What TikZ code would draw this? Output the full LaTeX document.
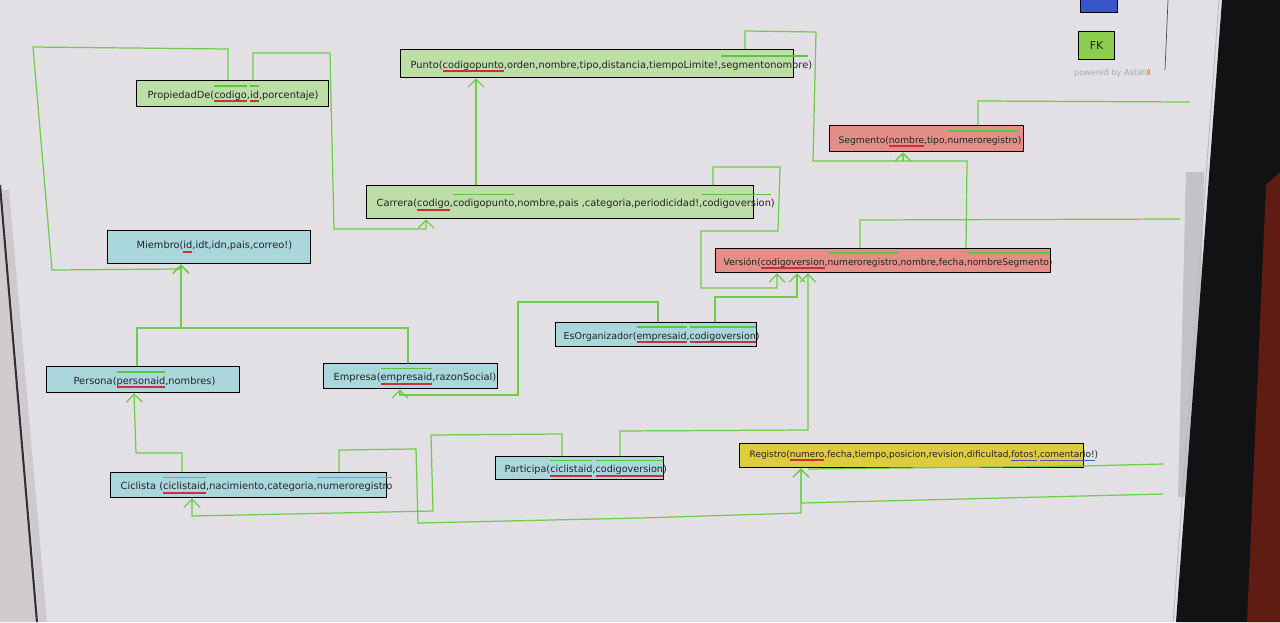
\documentclass[tikz,border=0pt]{standalone}
\usepackage{fontspec}
\setmainfont{DejaVu Sans}
\usetikzlibrary{arrows.meta}
\newdimen\pxu \pxu=0.02cm
\definecolor{scr}{RGB}{226,224,228}
\definecolor{scrleft}{RGB}{208,203,207}
\definecolor{edgedark}{RGB}{55,45,50}
\definecolor{bezel}{RGB}{18,18,20}
\definecolor{brownred}{RGB}{95,28,18}
\definecolor{scrollg}{RGB}{196,194,198}
\definecolor{fillg}{RGB}{190,222,168}
\definecolor{fillr}{RGB}{228,142,136}
\definecolor{fillc}{RGB}{170,215,220}
\definecolor{filly}{RGB}{222,204,62}
\definecolor{lineg}{RGB}{110,205,70}
\definecolor{fkg}{RGB}{90,200,60}
\definecolor{pkred}{RGB}{205,45,65}
\definecolor{bluu}{RGB}{70,90,200}
\definecolor{txt}{RGB}{35,35,38}
\definecolor{legblue}{RGB}{55,85,200}
\definecolor{legg}{RGB}{140,205,80}
\definecolor{faint}{RGB}{172,168,172}
\newcommand\pk[1]{\setbox0\hbox{#1}\rlap{\color{pkred}\rule[-2.2pt]{\wd0}{0.9pt}}\box0}
\newcommand\fk[1]{\setbox0\hbox{#1}\rlap{\color{fkg}\rule[6.6pt]{\wd0}{0.7pt}}\box0}
\newcommand\bu[1]{\setbox0\hbox{#1}\rlap{\color{bluu}\rule[-2.2pt]{\wd0}{0.8pt}}\box0}
\newcommand\smallfs{\fontsize{5.2}{6.2}\selectfont}
\newcommand\smallerfs{\fontsize{5.1}{6.1}\selectfont}
\tikzset{
  tbl/.style={draw=black, line width=0.75pt, inner sep=0pt, anchor=north west,
    font=\fontsize{5.6}{6.7}\selectfont, text=txt},
  con/.style={draw=lineg, line width=0.7pt},
  arr/.style={con, -{Straight Barb[length=4.5pt,width=9pt]}},
}
\newcommand\tb[8]{\node[tbl, fill=#7, minimum width=#4*0.02cm, minimum height=#5*0.02cm] (#1) at (#2,#3) {\makebox[#4\pxu][l]{\hspace{#6\pxu}#8}};}
\begin{document}
\begin{tikzpicture}[x=0.02cm,y=-0.02cm]
\useasboundingbox (0,0) rectangle (1280,622);
\clip (0,0) rectangle (1280,622);
% photo frame
\fill[scr] (0,0) rectangle (1280,622);
\fill[scrleft] (0,185) -- (37,622) -- (0,622) -- cycle;
\fill[scrollg, opacity=0.7] (2,190) -- (9,190) -- (47,622) -- (39,622) -- cycle;
\draw[edgedark, line width=1.2pt] (0,185) -- (37,622);
\fill[scrollg] (1186,172) -- (1204,172) -- (1196,497) -- (1178,497) -- cycle;
\fill[bezel] (1222,0) -- (1280,0) -- (1280,622) -- (1176,622) -- cycle;
\fill[brownred] (1266,185) -- (1280,172) -- (1280,622) -- (1247,622) -- cycle;
\draw[color={rgb,255:red,170;green,190;blue,200}, line width=0.5pt] (1219,0) -- (1173,622);
% legend
\draw[black!70, line width=0.4pt] (1168,0) -- (1165,70);
\node[draw=black, line width=0.75pt, fill=legblue, minimum width=37*0.02cm, minimum height=17*0.02cm, anchor=north west, inner sep=0pt] (legpk) at (1080,-5) {};
\node[draw=black, line width=0.75pt, fill=legg, minimum width=36*0.02cm, minimum height=28*0.02cm, anchor=north west, inner sep=0pt, font=\fontsize{6.2}{7}\selectfont, text=txt] (legfk) at (1078,31) {FK};
\node[font=\fontsize{4.6}{5}\selectfont, text=faint, inner sep=0pt] (astah) at (1112,73) {powered by Astah\textcolor{orange!70}{\rule{1.6pt}{3.4pt}}};
% tables
\tb{prop}{136}{80}{192}{26}{11}{fillg}{PropiedadDe(\pk{\fk{codigo}},\pk{\fk{id}},porcentaje)}
\tb{pun}{400}{49}{393}{28}{10}{fillg}{Punto(\pk{codigopunto},orden,nombre,tipo,distancia,tiempoLimite!,\fk{segmentonombre})}
\tb{car}{366}{185}{387}{33}{10}{fillg}{Carrera(\pk{codigo},\fk{codigopunto},nombre,pais ,categoria,periodicidad!,\fk{codigoversion})}
\tb{seg}{829}{125}{194}{26}{9}{fillr}{\smallfs Segmento(\pk{nombre},tipo,\fk{numeroregistro})}
\tb{ver}{715}{248}{335}{24}{8}{fillr}{\smallfs Versión(\pk{codigoversion},\fk{numeroregistro},nombre,fecha,\fk{nombreSegmento})}
\tb{mie}{107}{230}{203}{33}{29}{fillc}{Miembro(\pk{id},idt,idn,pais,correo!)}
\tb{per}{46}{366}{193}{26}{27}{fillc}{Persona(\pk{\fk{personaid}},nombres)}
\tb{emp}{323}{363}{174}{25}{10}{fillc}{Empresa(\pk{\fk{empresaid}},razonSocial)}
\tb{eso}{555}{322}{201}{24}{8}{fillc}{\fontsize{5.4}{6.4}\selectfont EsOrganizador(\pk{\fk{empresaid}},\pk{\fk{codigoversion}})}
\tb{par}{495}{456}{168}{23}{9}{fillc}{\fontsize{5.5}{6.5}\selectfont Participa(\pk{\fk{ciclistaid}},\pk{\fk{codigoversion}})}
\tb{cic}{110}{472}{276}{25}{10}{fillc}{Ciclista (\pk{\fk{ciclistaid}},nacimiento,categoria,\fk{numeroregistro}}
\tb{reg}{739}{443}{344}{24}{10}{filly}{\smallerfs Registro(\pk{numero},fecha,tiempo,posicion,revision,dificultad,\bu{fotos!},\bu{comentario!})}
% free ends
\coordinate (offa) at (1190,102);
\coordinate (offb) at (1180,219);
\coordinate (offc) at (1163,494);
\coordinate (offd) at (1163,464);
% connectors
\draw[arr] (prop.north -| 228,0) -- (228,49) -- (33,47) -- (52,270) -- (181,269) -- (mie.south -| 181,0);
\draw[arr] (prop.north -| 253,0) -- (253,53) -- (330,53) -- (334,229) -- (426,229) -- (car.south -| 426,0);
\draw[arr] (car.north -| 476,0) -- (pun.south -| 476,0);
\draw[arr] (pun.north -| 745,0) -- (745,31) -- (816,32) -- (813,161) -- (903,161) -- (seg.south -| 903,0);
\draw[arr] (ver.north -| 966,0) -- (967,161) -- (903,161) -- (seg.south -| 903,0);
\draw[con] (seg.north -| 978,0) -- (978,101) -- (offa);
\draw[con] (ver.north -| 860,0) -- (860,220) -- (offb);
\draw[arr] (car.north -| 713,0) -- (713,167) -- (780,167) -- (778,231) -- (701,231) -- (701,288) -- (777,288) -- (ver.south -| 777,0);
\draw[arr] (eso.north -| 715,0) -- (715,297) -- (797,297) -- (ver.south -| 797,0);
\draw[arr] (par.north -| 620,0) -- (620,431) -- (808,430) -- (ver.south -| 808,0);
\draw[arr] (eso.north -| 658,0) -- (658,302) -- (518,302) -- (518,395) -- (400,395) -- (emp.south -| 400,0);
\draw[arr] (per.north -| 137,0) -- (137,328) -- (181,328) -- (mie.south -| 181,0);
\draw[arr] (emp.north -| 408,0) -- (408,328) -- (181,328) -- (mie.south -| 181,0);
\draw[arr] (cic.north -| 182,0) -- (182,453) -- (136,453) -- (per.south -| 134,0);
\draw[arr] (cic.north -| 339,0) -- (339,450) -- (416,449) -- (418,523) -- (640,518) -- (801,513) -- (reg.south -| 801,0);
\draw[arr] (par.north -| 562,0) -- (562,434) -- (431,435) -- (433,511) -- (192,516) -- (cic.south -| 192,0);
\draw[arr] (offc) -- (801,503) -- (reg.south -| 801,0);
\draw[con] (offd) -- (1083,466) -- (808,469);
\end{tikzpicture}
\end{document}
